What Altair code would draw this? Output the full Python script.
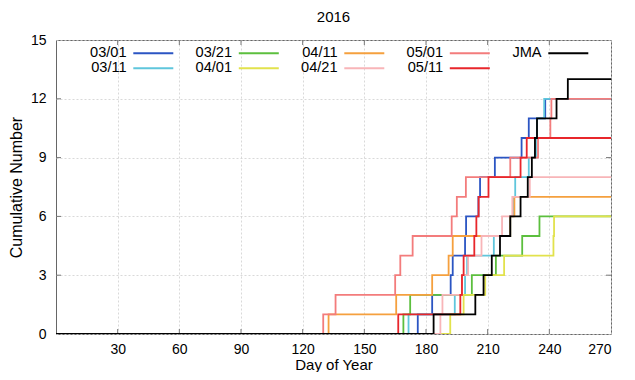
import altair as alt
import pandas as pd

# ---------------- data ----------------
DAY_END = 270
draw_order = ["03/01", "03/11", "03/21", "04/01", "04/11", "04/21", "05/01", "05/11", "JMA"]
legend_order = ["03/01", "03/21", "04/11", "05/01", "JMA", "03/11", "04/01", "04/21", "05/11"]
color_of = {
    "03/01": "#2b55c3",
    "03/11": "#5fc6dc",
    "03/21": "#5cbf3e",
    "04/01": "#e2e24c",
    "04/11": "#f5a03e",
    "04/21": "#f8b5b8",
    "05/01": "#f37c7c",
    "05/11": "#e8262b",
    "JMA": "#000000",
}

# day of year at which each cumulative count increases by one
steps_0301 = [176, 183, 192, 193, 199, 199.5, 205.5, 206.3, 213.5, 226.5, 230, 238]
steps_0311 = [171.5, 194, 199, 200, 213, 221, 222.4, 223.4, 230, 233.5, 234, 237.5]
steps_0321 = [169, 172.3, 202.3, 214, 226.8, 235.2]
steps_0401 = [191.8, 198.3, 208.8, 218, 242, 242.3]
steps_0411 = [132.6, 165.5, 183, 191, 193, 221, 223]
steps_0421 = [187, 188, 197.5, 200.5, 207, 217, 222, 230.5]
steps_0501 = [130, 136, 165, 167.5, 173.5, 192.5, 195, 199.4, 221, 234.5, 240.5, 241]
steps_0511 = [166.5, 196.7, 197.5, 198.3, 203.5, 204.5, 205.6, 210.4, 226, 229]
steps_jma = [183.7, 204, 208, 212, 216, 221, 226, 229.5, 231.5, 233, 234, 243.5, 249]

steps = {
    "03/01": steps_0301,
    "03/11": steps_0311,
    "03/21": steps_0321,
    "04/01": steps_0401,
    "04/11": steps_0411,
    "04/21": steps_0421,
    "05/01": steps_0501,
    "05/11": steps_0511,
    "JMA": steps_jma,
}

x_ticks = [30, 60, 90, 120, 150, 180, 210, 240, 270]
y_ticks = [0, 3, 6, 9, 12, 15]
x_inner_ticks = [30, 60, 90, 120, 150, 180, 210, 240]
y_inner_ticks = [3, 6, 9, 12]

rows = []
for name in draw_order:
    rows.append({"series": name, "day": 0, "n": 0})
    for i, d in enumerate(steps[name]):
        rows.append({"series": name, "day": d, "n": i + 1})
    rows.append({"series": name, "day": DAY_END, "n": len(steps[name])})
df = pd.DataFrame(rows)

W, H = 555, 294
FONT = "Liberation Sans"

x_scale = alt.Scale(domain=[0, DAY_END], nice=False, zero=False)
y_scale = alt.Scale(domain=[0, 15], nice=False)

legend = alt.Legend(
    title=None, orient="none", legendX=56, legendY=6,
    direction="horizontal", columns=5,
    symbolType="M3.5,0H13.5", symbolSize=64, symbolStrokeWidth=2,
    symbolOffset=0,
    labelFont=FONT, labelFontSize=14.6, labelColor="#000",
    labelAlign="right", labelOffset=0, labelBaseline="middle",
    columnPadding=17.5, rowPadding=0, padding=0,
)

lines = alt.Chart(df).mark_line(interpolate="step-after", strokeWidth=1.8, clip=True).encode(
    x=alt.X("day:Q", scale=x_scale,
            axis=alt.Axis(values=x_ticks, title="Day of Year", grid=True, ticks=False,
                          domain=False, labelPadding=8, titlePadding=1,
                          titleFontSize=15)),
    y=alt.Y("n:Q", scale=y_scale,
            axis=alt.Axis(values=y_ticks, title="Cumulative Number", grid=True, ticks=False,
                          domain=False, labelPadding=10, titlePadding=6,
                          titleFontSize=16)),
    color=alt.Color(
        "series:N",
        scale=alt.Scale(domain=legend_order, range=[color_of[s] for s in legend_order]),
        legend=legend,
    ),
)

tx = pd.DataFrame({"day": x_inner_ticks})
ty = pd.DataFrame({"n": y_inner_ticks})
tick_col = "#777777"
tb = alt.Chart(tx).mark_rule(color=tick_col, strokeWidth=1).encode(
    x=alt.X("day:Q", scale=x_scale), y=alt.value(H), y2=alt.value(H - 5))
tt = alt.Chart(tx).mark_rule(color=tick_col, strokeWidth=1).encode(
    x=alt.X("day:Q", scale=x_scale), y=alt.value(0), y2=alt.value(5))
tl = alt.Chart(ty).mark_rule(color=tick_col, strokeWidth=1).encode(
    y=alt.Y("n:Q", scale=y_scale), x=alt.value(0), x2=alt.value(5))
tr = alt.Chart(ty).mark_rule(color=tick_col, strokeWidth=1).encode(
    y=alt.Y("n:Q", scale=y_scale), x=alt.value(W), x2=alt.value(W - 5))

chart = alt.layer(tb, tt, tl, tr, lines).properties(
    width=W, height=H,
    background="white",
    title=alt.TitleParams("2016", font=FONT, fontSize=15, fontWeight="normal",
                          color="#000", offset=8, anchor="middle"),
    autosize=alt.AutoSizeParams(type="none"),
    padding={"left": 48, "top": 32, "right": 16, "bottom": 38},
).configure_view(stroke="#666666", strokeWidth=1).configure_axis(
    labelFont=FONT, labelFontSize=14, labelColor="#000",
    titleFont=FONT, titleFontWeight="normal", titleColor="#000",
    gridColor="#cfcfcf", gridDash=[2, 2], gridWidth=0.8,
)

chart.save("out.html", embed_options={"renderer": "svg", "actions": False})
